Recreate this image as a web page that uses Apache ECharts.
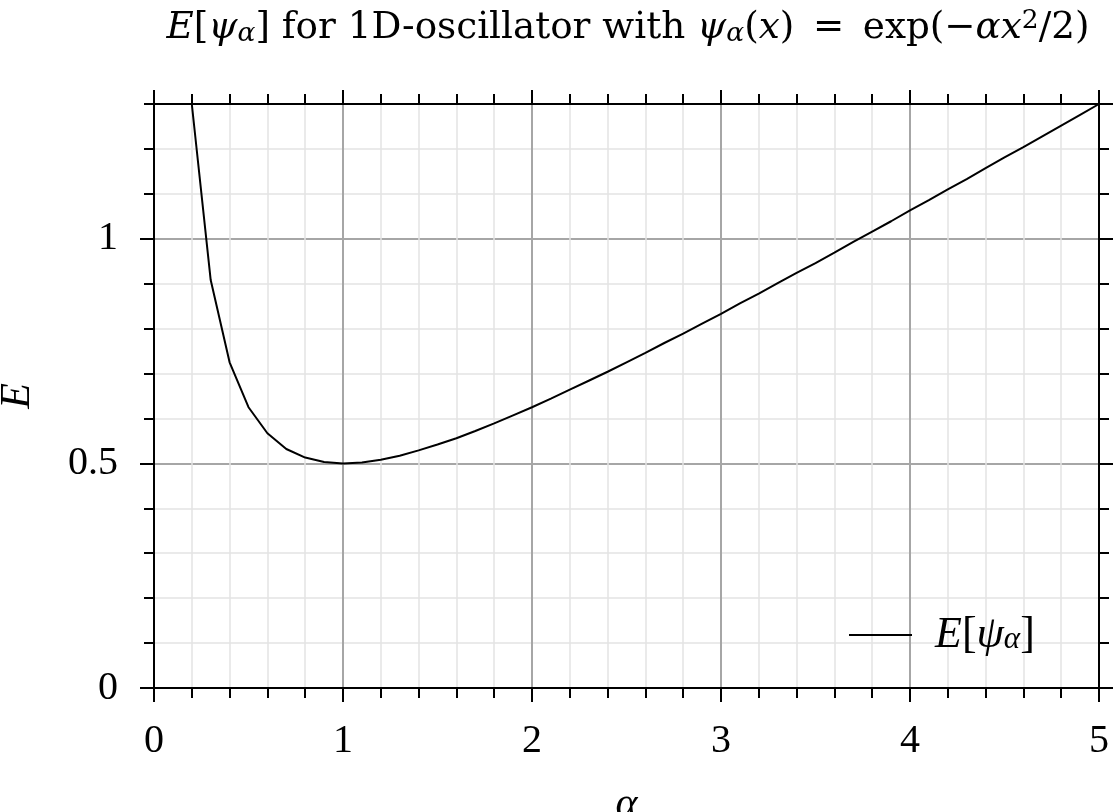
<!DOCTYPE html>
<html>
<head>
<meta charset="utf-8">
<script src="https://cdn.jsdelivr.net/npm/echarts@6/dist/echarts.min.js"></script>
<style>
  html, body { margin: 0; padding: 0; background: #ffffff; }
  #chart { width: 1115px; height: 812px; }
</style>
</head>
<body>
<div id="chart"></div>
<script>
// ---- data ----
var alphaValues = [0.2, 0.3, 0.4, 0.5, 0.6, 0.7, 0.8, 0.9, 1.0,
  1.1, 1.2, 1.3, 1.4, 1.5, 1.6, 1.7, 1.8, 1.9, 2.0,
  2.1, 2.2, 2.3, 2.4, 2.5, 2.6, 2.7, 2.8, 2.9, 3.0,
  3.1, 3.2, 3.3, 3.4, 3.5, 3.6, 3.7, 3.8, 3.9, 4.0,
  4.1, 4.2, 4.3, 4.4, 4.5, 4.6, 4.7, 4.8, 4.9, 5.0];
var energyValues = [1.300, 0.908, 0.725, 0.625, 0.567, 0.532, 0.513, 0.503, 0.500,
  0.502, 0.508, 0.517, 0.529, 0.542, 0.556, 0.572, 0.589, 0.607, 0.625,
  0.644, 0.664, 0.684, 0.704, 0.725, 0.746, 0.768, 0.789, 0.811, 0.833,
  0.856, 0.878, 0.901, 0.924, 0.946, 0.969, 0.993, 1.016, 1.039, 1.063,
  1.086, 1.110, 1.133, 1.157, 1.181, 1.204, 1.228, 1.252, 1.276, 1.300];
var xTickLabels = ['0', '1', '2', '3', '4', '5'];
var yTickLabels = ['0', '0.5', '1'];
var seriesName = 'E[ψα]';

var points = alphaValues.map(function (a, i) { return [a, energyValues[i]]; });

var FONT = 'Liberation Serif';
var TFONT = 'DejaVu Serif';
var BLACK = '#000000';
var MAJOR_GRID = '#a6a6a6';
var MINOR_GRID = '#e3e3e3';
var SP = '\u2002'; // en space (math spacing around "=")

var chart = echarts.init(document.getElementById('chart'), null, { renderer: 'canvas' });

function xAxisCfg(pos, labels) {
  return {
    type: 'value', position: pos, min: 0, max: 5, interval: 1,
    axisLine: { show: true, onZero: false, lineStyle: { color: BLACK, width: 2 } },
    axisTick: { show: true, inside: false, length: 14, lineStyle: { color: BLACK, width: 2 } },
    minorTick: { show: true, splitNumber: 5, length: 10, lineStyle: { color: BLACK, width: 2 } },
    splitLine: { show: labels, lineStyle: { color: MAJOR_GRID, width: 2 } },
    minorSplitLine: { show: labels, lineStyle: { color: MINOR_GRID, width: 1.5 } },
    axisLabel: {
      show: labels, margin: 33, fontFamily: FONT, fontSize: 40, color: BLACK,
      formatter: function (v) { var i = Math.round(v); return xTickLabels[i] !== undefined ? xTickLabels[i] : ''; }
    },
    name: labels ? 'α' : '', nameLocation: 'middle', nameGap: 96,
    nameTextStyle: { fontFamily: FONT, fontStyle: 'italic', fontSize: 42, color: BLACK }
  };
}
function yMinorCfg(pos) {
  return {
    type: 'value', position: pos, min: 0, max: 1.3, interval: 0.1,
    axisLine: { show: true, onZero: false, lineStyle: { color: BLACK, width: 2 } },
    axisTick: { show: true, inside: false, length: 10, lineStyle: { color: BLACK, width: 2 } },
    splitLine: { show: pos === 'left', lineStyle: { color: MINOR_GRID, width: 1.5 } },
    axisLabel: { show: false }
  };
}
function yMajorCfg(pos) {
  var labels = pos === 'left';
  return {
    type: 'value', position: pos, min: 0, max: 1.3, interval: 0.5,
    axisLine: { show: true, onZero: false, lineStyle: { color: BLACK, width: 2 } },
    axisTick: { show: true, inside: false, length: 14, lineStyle: { color: BLACK, width: 2 } },
    splitLine: { show: labels, lineStyle: { color: MAJOR_GRID, width: 2 } },
    axisLabel: {
      show: labels, margin: 36, fontFamily: FONT, fontSize: 40, color: BLACK,
      showMaxLabel: false,
      formatter: function (v) {
        var idx = Math.round(v / 0.5);
        if (Math.abs(v - idx * 0.5) > 1e-6) return '';
        return yTickLabels[idx] !== undefined ? yTickLabels[idx] : '';
      }
    },
    name: labels ? 'E' : '', nameLocation: 'middle', nameGap: 115, nameRotate: 90,
    nameTextStyle: { fontFamily: FONT, fontStyle: 'italic', fontSize: 42, color: BLACK }
  };
}

var option = {
  backgroundColor: '#ffffff',
  animation: false,
  title: {
    text: '{i|E}[{i|ψ}{s|α}] for 1D-oscillator with {i|ψ}{s|α}({i|x})' + SP + '=' + SP +
          'exp(−{i|αx}{p|2}/2)',
    left: 623, textAlign: 'center', top: 3,
    textStyle: {
      fontFamily: TFONT, fontSize: 37.3, fontWeight: 'normal', color: BLACK, lineHeight: 40,
      rich: {
        i: { fontFamily: TFONT, fontSize: 37.3, fontStyle: 'italic', color: BLACK, lineHeight: 40 },
        s: { fontFamily: TFONT, fontSize: 26.5, fontStyle: 'italic', color: BLACK, lineHeight: 22, verticalAlign: 'bottom' },
        p: { fontFamily: TFONT, fontSize: 26.5, color: BLACK, lineHeight: 22, verticalAlign: 'top' }
      }
    }
  },
  grid: { left: 154, right: 16, top: 104, bottom: 124, containLabel: false, outerBoundsMode: 'none' },
  legend: {
    show: true, left: 844, top: 608, orient: 'vertical',
    itemWidth: 63, itemHeight: 2, icon: 'rect',
    itemStyle: { color: BLACK, borderWidth: 0 },
    data: [seriesName],
    formatter: function () { return '{i|E}[{i|ψ}{s|α}]'; },
    textStyle: {
      fontFamily: FONT, fontSize: 44, color: BLACK, lineHeight: 40, padding: [0, 0, 0, 18],
      rich: {
        i: { fontFamily: FONT, fontSize: 44, fontStyle: 'italic', color: BLACK, lineHeight: 40 },
        s: { fontFamily: FONT, fontSize: 31, fontStyle: 'italic', color: BLACK, lineHeight: 24, verticalAlign: 'bottom' }
      }
    }
  },
  xAxis: [xAxisCfg('bottom', true), xAxisCfg('top', false)],
  yAxis: [yMinorCfg('left'), yMajorCfg('left'), yMinorCfg('right'), yMajorCfg('right')],
  series: [{
    name: seriesName, type: 'line', xAxisIndex: 0, yAxisIndex: 1,
    data: points, symbol: 'none', showSymbol: false, clip: false,
    lineStyle: { color: BLACK, width: 2 }, itemStyle: { color: BLACK },
    z: 5
  }]
};
chart.setOption(option);
</script>
</body>
</html>
